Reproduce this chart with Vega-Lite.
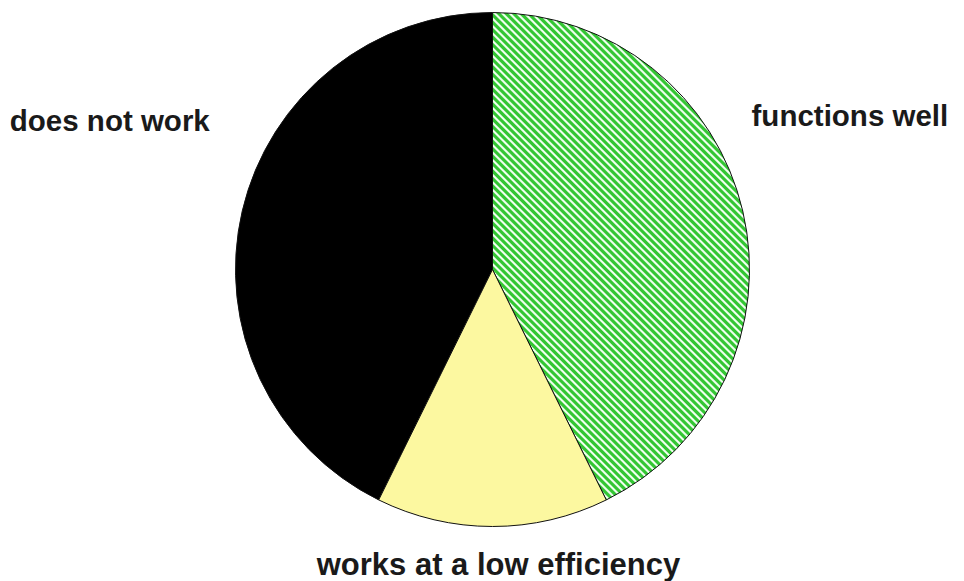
{
  "$schema": "https://vega.github.io/schema/vega-lite/v6.json",
  "autosize": "none",
  "width": 941,
  "height": 539,
  "padding": {"left": 22, "top": 0, "right": 1, "bottom": 42},
  "background": "white",
  "view": {"stroke": null},
  "data": {
    "values": [
      {"category": "does not work", "value": 42.7},
      {"category": "functions well", "value": 42.7},
      {"category": "works at a low efficiency", "value": 14.6}
    ]
  },
  "layer": [
    {
      "mark": {"type": "arc", "outerRadius": 257, "stroke": "#111111", "strokeWidth": 1},
      "encoding": {
        "theta": {"field": "value", "type": "quantitative", "stack": true, "scale": {"range": [-2.6829, 3.6003]}},
        "detail": {"field": "category"},
        "fill": {
          "condition": [
            {"test": "datum.category === 'does not work'", "value": "#000000"},
            {"test": "datum.category === 'works at a low efficiency'", "value": "#fcf8a0"}
          ],
          "value": {
            "gradient": "linear",
            "x1": 0, "y1": 1, "x2": 0.6294, "y2": -0.1952,
            "stops": [
              {"offset":0,"color":"#33c633"},{"offset":0.004,"color":"#33c633"},{"offset":0.006,"color":"#f0fff0"},{"offset":0.008,"color":"#f0fff0"},
              {"offset":0.01,"color":"#33c633"},{"offset":0.014,"color":"#33c633"},{"offset":0.016,"color":"#f0fff0"},{"offset":0.018,"color":"#f0fff0"},
              {"offset":0.02,"color":"#33c633"},{"offset":0.024,"color":"#33c633"},{"offset":0.026,"color":"#f0fff0"},{"offset":0.028,"color":"#f0fff0"},
              {"offset":0.03,"color":"#33c633"},{"offset":0.034,"color":"#33c633"},{"offset":0.036,"color":"#f0fff0"},{"offset":0.038,"color":"#f0fff0"},
              {"offset":0.04,"color":"#33c633"},{"offset":0.044,"color":"#33c633"},{"offset":0.046,"color":"#f0fff0"},{"offset":0.048,"color":"#f0fff0"},
              {"offset":0.05,"color":"#33c633"},{"offset":0.054,"color":"#33c633"},{"offset":0.056,"color":"#f0fff0"},{"offset":0.058,"color":"#f0fff0"},
              {"offset":0.06,"color":"#33c633"},{"offset":0.064,"color":"#33c633"},{"offset":0.066,"color":"#f0fff0"},{"offset":0.068,"color":"#f0fff0"},
              {"offset":0.07,"color":"#33c633"},{"offset":0.074,"color":"#33c633"},{"offset":0.076,"color":"#f0fff0"},{"offset":0.078,"color":"#f0fff0"},
              {"offset":0.08,"color":"#33c633"},{"offset":0.084,"color":"#33c633"},{"offset":0.086,"color":"#f0fff0"},{"offset":0.088,"color":"#f0fff0"},
              {"offset":0.09,"color":"#33c633"},{"offset":0.094,"color":"#33c633"},{"offset":0.096,"color":"#f0fff0"},{"offset":0.098,"color":"#f0fff0"},
              {"offset":0.1,"color":"#33c633"},{"offset":0.104,"color":"#33c633"},{"offset":0.106,"color":"#f0fff0"},{"offset":0.108,"color":"#f0fff0"},
              {"offset":0.11,"color":"#33c633"},{"offset":0.114,"color":"#33c633"},{"offset":0.116,"color":"#f0fff0"},{"offset":0.118,"color":"#f0fff0"},
              {"offset":0.12,"color":"#33c633"},{"offset":0.124,"color":"#33c633"},{"offset":0.126,"color":"#f0fff0"},{"offset":0.128,"color":"#f0fff0"},
              {"offset":0.13,"color":"#33c633"},{"offset":0.134,"color":"#33c633"},{"offset":0.136,"color":"#f0fff0"},{"offset":0.138,"color":"#f0fff0"},
              {"offset":0.14,"color":"#33c633"},{"offset":0.144,"color":"#33c633"},{"offset":0.146,"color":"#f0fff0"},{"offset":0.148,"color":"#f0fff0"},
              {"offset":0.15,"color":"#33c633"},{"offset":0.154,"color":"#33c633"},{"offset":0.156,"color":"#f0fff0"},{"offset":0.158,"color":"#f0fff0"},
              {"offset":0.16,"color":"#33c633"},{"offset":0.164,"color":"#33c633"},{"offset":0.166,"color":"#f0fff0"},{"offset":0.168,"color":"#f0fff0"},
              {"offset":0.17,"color":"#33c633"},{"offset":0.174,"color":"#33c633"},{"offset":0.176,"color":"#f0fff0"},{"offset":0.178,"color":"#f0fff0"},
              {"offset":0.18,"color":"#33c633"},{"offset":0.184,"color":"#33c633"},{"offset":0.186,"color":"#f0fff0"},{"offset":0.188,"color":"#f0fff0"},
              {"offset":0.19,"color":"#33c633"},{"offset":0.194,"color":"#33c633"},{"offset":0.196,"color":"#f0fff0"},{"offset":0.198,"color":"#f0fff0"},
              {"offset":0.2,"color":"#33c633"},{"offset":0.204,"color":"#33c633"},{"offset":0.206,"color":"#f0fff0"},{"offset":0.208,"color":"#f0fff0"},
              {"offset":0.21,"color":"#33c633"},{"offset":0.214,"color":"#33c633"},{"offset":0.216,"color":"#f0fff0"},{"offset":0.218,"color":"#f0fff0"},
              {"offset":0.22,"color":"#33c633"},{"offset":0.224,"color":"#33c633"},{"offset":0.226,"color":"#f0fff0"},{"offset":0.228,"color":"#f0fff0"},
              {"offset":0.23,"color":"#33c633"},{"offset":0.234,"color":"#33c633"},{"offset":0.236,"color":"#f0fff0"},{"offset":0.238,"color":"#f0fff0"},
              {"offset":0.24,"color":"#33c633"},{"offset":0.244,"color":"#33c633"},{"offset":0.246,"color":"#f0fff0"},{"offset":0.248,"color":"#f0fff0"},
              {"offset":0.25,"color":"#33c633"},{"offset":0.254,"color":"#33c633"},{"offset":0.256,"color":"#f0fff0"},{"offset":0.258,"color":"#f0fff0"},
              {"offset":0.26,"color":"#33c633"},{"offset":0.264,"color":"#33c633"},{"offset":0.266,"color":"#f0fff0"},{"offset":0.268,"color":"#f0fff0"},
              {"offset":0.27,"color":"#33c633"},{"offset":0.274,"color":"#33c633"},{"offset":0.276,"color":"#f0fff0"},{"offset":0.278,"color":"#f0fff0"},
              {"offset":0.28,"color":"#33c633"},{"offset":0.284,"color":"#33c633"},{"offset":0.286,"color":"#f0fff0"},{"offset":0.288,"color":"#f0fff0"},
              {"offset":0.29,"color":"#33c633"},{"offset":0.294,"color":"#33c633"},{"offset":0.296,"color":"#f0fff0"},{"offset":0.298,"color":"#f0fff0"},
              {"offset":0.3,"color":"#33c633"},{"offset":0.304,"color":"#33c633"},{"offset":0.306,"color":"#f0fff0"},{"offset":0.308,"color":"#f0fff0"},
              {"offset":0.31,"color":"#33c633"},{"offset":0.314,"color":"#33c633"},{"offset":0.316,"color":"#f0fff0"},{"offset":0.318,"color":"#f0fff0"},
              {"offset":0.32,"color":"#33c633"},{"offset":0.324,"color":"#33c633"},{"offset":0.326,"color":"#f0fff0"},{"offset":0.328,"color":"#f0fff0"},
              {"offset":0.33,"color":"#33c633"},{"offset":0.334,"color":"#33c633"},{"offset":0.336,"color":"#f0fff0"},{"offset":0.338,"color":"#f0fff0"},
              {"offset":0.34,"color":"#33c633"},{"offset":0.344,"color":"#33c633"},{"offset":0.346,"color":"#f0fff0"},{"offset":0.348,"color":"#f0fff0"},
              {"offset":0.35,"color":"#33c633"},{"offset":0.354,"color":"#33c633"},{"offset":0.356,"color":"#f0fff0"},{"offset":0.358,"color":"#f0fff0"},
              {"offset":0.36,"color":"#33c633"},{"offset":0.364,"color":"#33c633"},{"offset":0.366,"color":"#f0fff0"},{"offset":0.368,"color":"#f0fff0"},
              {"offset":0.37,"color":"#33c633"},{"offset":0.374,"color":"#33c633"},{"offset":0.376,"color":"#f0fff0"},{"offset":0.378,"color":"#f0fff0"},
              {"offset":0.38,"color":"#33c633"},{"offset":0.384,"color":"#33c633"},{"offset":0.386,"color":"#f0fff0"},{"offset":0.388,"color":"#f0fff0"},
              {"offset":0.39,"color":"#33c633"},{"offset":0.394,"color":"#33c633"},{"offset":0.396,"color":"#f0fff0"},{"offset":0.398,"color":"#f0fff0"},
              {"offset":0.4,"color":"#33c633"},{"offset":0.404,"color":"#33c633"},{"offset":0.406,"color":"#f0fff0"},{"offset":0.408,"color":"#f0fff0"},
              {"offset":0.41,"color":"#33c633"},{"offset":0.414,"color":"#33c633"},{"offset":0.416,"color":"#f0fff0"},{"offset":0.418,"color":"#f0fff0"},
              {"offset":0.42,"color":"#33c633"},{"offset":0.424,"color":"#33c633"},{"offset":0.426,"color":"#f0fff0"},{"offset":0.428,"color":"#f0fff0"},
              {"offset":0.43,"color":"#33c633"},{"offset":0.434,"color":"#33c633"},{"offset":0.436,"color":"#f0fff0"},{"offset":0.438,"color":"#f0fff0"},
              {"offset":0.44,"color":"#33c633"},{"offset":0.444,"color":"#33c633"},{"offset":0.446,"color":"#f0fff0"},{"offset":0.448,"color":"#f0fff0"},
              {"offset":0.45,"color":"#33c633"},{"offset":0.454,"color":"#33c633"},{"offset":0.456,"color":"#f0fff0"},{"offset":0.458,"color":"#f0fff0"},
              {"offset":0.46,"color":"#33c633"},{"offset":0.464,"color":"#33c633"},{"offset":0.466,"color":"#f0fff0"},{"offset":0.468,"color":"#f0fff0"},
              {"offset":0.47,"color":"#33c633"},{"offset":0.474,"color":"#33c633"},{"offset":0.476,"color":"#f0fff0"},{"offset":0.478,"color":"#f0fff0"},
              {"offset":0.48,"color":"#33c633"},{"offset":0.484,"color":"#33c633"},{"offset":0.486,"color":"#f0fff0"},{"offset":0.488,"color":"#f0fff0"},
              {"offset":0.49,"color":"#33c633"},{"offset":0.494,"color":"#33c633"},{"offset":0.496,"color":"#f0fff0"},{"offset":0.498,"color":"#f0fff0"},
              {"offset":0.5,"color":"#33c633"},{"offset":0.504,"color":"#33c633"},{"offset":0.506,"color":"#f0fff0"},{"offset":0.508,"color":"#f0fff0"},
              {"offset":0.51,"color":"#33c633"},{"offset":0.514,"color":"#33c633"},{"offset":0.516,"color":"#f0fff0"},{"offset":0.518,"color":"#f0fff0"},
              {"offset":0.52,"color":"#33c633"},{"offset":0.524,"color":"#33c633"},{"offset":0.526,"color":"#f0fff0"},{"offset":0.528,"color":"#f0fff0"},
              {"offset":0.53,"color":"#33c633"},{"offset":0.534,"color":"#33c633"},{"offset":0.536,"color":"#f0fff0"},{"offset":0.538,"color":"#f0fff0"},
              {"offset":0.54,"color":"#33c633"},{"offset":0.544,"color":"#33c633"},{"offset":0.546,"color":"#f0fff0"},{"offset":0.548,"color":"#f0fff0"},
              {"offset":0.55,"color":"#33c633"},{"offset":0.554,"color":"#33c633"},{"offset":0.556,"color":"#f0fff0"},{"offset":0.558,"color":"#f0fff0"},
              {"offset":0.56,"color":"#33c633"},{"offset":0.564,"color":"#33c633"},{"offset":0.566,"color":"#f0fff0"},{"offset":0.568,"color":"#f0fff0"},
              {"offset":0.57,"color":"#33c633"},{"offset":0.574,"color":"#33c633"},{"offset":0.576,"color":"#f0fff0"},{"offset":0.578,"color":"#f0fff0"},
              {"offset":0.58,"color":"#33c633"},{"offset":0.584,"color":"#33c633"},{"offset":0.586,"color":"#f0fff0"},{"offset":0.588,"color":"#f0fff0"},
              {"offset":0.59,"color":"#33c633"},{"offset":0.594,"color":"#33c633"},{"offset":0.596,"color":"#f0fff0"},{"offset":0.598,"color":"#f0fff0"},
              {"offset":0.6,"color":"#33c633"},{"offset":0.604,"color":"#33c633"},{"offset":0.606,"color":"#f0fff0"},{"offset":0.608,"color":"#f0fff0"},
              {"offset":0.61,"color":"#33c633"},{"offset":0.614,"color":"#33c633"},{"offset":0.616,"color":"#f0fff0"},{"offset":0.618,"color":"#f0fff0"},
              {"offset":0.62,"color":"#33c633"},{"offset":0.624,"color":"#33c633"},{"offset":0.626,"color":"#f0fff0"},{"offset":0.628,"color":"#f0fff0"},
              {"offset":0.63,"color":"#33c633"},{"offset":0.634,"color":"#33c633"},{"offset":0.636,"color":"#f0fff0"},{"offset":0.638,"color":"#f0fff0"},
              {"offset":0.64,"color":"#33c633"},{"offset":0.644,"color":"#33c633"},{"offset":0.646,"color":"#f0fff0"},{"offset":0.648,"color":"#f0fff0"},
              {"offset":0.65,"color":"#33c633"},{"offset":0.654,"color":"#33c633"},{"offset":0.656,"color":"#f0fff0"},{"offset":0.658,"color":"#f0fff0"},
              {"offset":0.66,"color":"#33c633"},{"offset":0.664,"color":"#33c633"},{"offset":0.666,"color":"#f0fff0"},{"offset":0.668,"color":"#f0fff0"},
              {"offset":0.67,"color":"#33c633"},{"offset":0.674,"color":"#33c633"},{"offset":0.676,"color":"#f0fff0"},{"offset":0.678,"color":"#f0fff0"},
              {"offset":0.68,"color":"#33c633"},{"offset":0.684,"color":"#33c633"},{"offset":0.686,"color":"#f0fff0"},{"offset":0.688,"color":"#f0fff0"},
              {"offset":0.69,"color":"#33c633"},{"offset":0.694,"color":"#33c633"},{"offset":0.696,"color":"#f0fff0"},{"offset":0.698,"color":"#f0fff0"},
              {"offset":0.7,"color":"#33c633"},{"offset":0.704,"color":"#33c633"},{"offset":0.706,"color":"#f0fff0"},{"offset":0.708,"color":"#f0fff0"},
              {"offset":0.71,"color":"#33c633"},{"offset":0.714,"color":"#33c633"},{"offset":0.716,"color":"#f0fff0"},{"offset":0.718,"color":"#f0fff0"},
              {"offset":0.72,"color":"#33c633"},{"offset":0.724,"color":"#33c633"},{"offset":0.726,"color":"#f0fff0"},{"offset":0.728,"color":"#f0fff0"},
              {"offset":0.73,"color":"#33c633"},{"offset":0.734,"color":"#33c633"},{"offset":0.736,"color":"#f0fff0"},{"offset":0.738,"color":"#f0fff0"},
              {"offset":0.74,"color":"#33c633"},{"offset":0.744,"color":"#33c633"},{"offset":0.746,"color":"#f0fff0"},{"offset":0.748,"color":"#f0fff0"},
              {"offset":0.75,"color":"#33c633"},{"offset":0.754,"color":"#33c633"},{"offset":0.756,"color":"#f0fff0"},{"offset":0.758,"color":"#f0fff0"},
              {"offset":0.76,"color":"#33c633"},{"offset":0.764,"color":"#33c633"},{"offset":0.766,"color":"#f0fff0"},{"offset":0.768,"color":"#f0fff0"},
              {"offset":0.77,"color":"#33c633"},{"offset":0.774,"color":"#33c633"},{"offset":0.776,"color":"#f0fff0"},{"offset":0.778,"color":"#f0fff0"},
              {"offset":0.78,"color":"#33c633"},{"offset":0.784,"color":"#33c633"},{"offset":0.786,"color":"#f0fff0"},{"offset":0.788,"color":"#f0fff0"},
              {"offset":0.79,"color":"#33c633"},{"offset":0.794,"color":"#33c633"},{"offset":0.796,"color":"#f0fff0"},{"offset":0.798,"color":"#f0fff0"},
              {"offset":0.8,"color":"#33c633"},{"offset":0.804,"color":"#33c633"},{"offset":0.806,"color":"#f0fff0"},{"offset":0.808,"color":"#f0fff0"},
              {"offset":0.81,"color":"#33c633"},{"offset":0.814,"color":"#33c633"},{"offset":0.816,"color":"#f0fff0"},{"offset":0.818,"color":"#f0fff0"},
              {"offset":0.82,"color":"#33c633"},{"offset":0.824,"color":"#33c633"},{"offset":0.826,"color":"#f0fff0"},{"offset":0.828,"color":"#f0fff0"},
              {"offset":0.83,"color":"#33c633"},{"offset":0.834,"color":"#33c633"},{"offset":0.836,"color":"#f0fff0"},{"offset":0.838,"color":"#f0fff0"},
              {"offset":0.84,"color":"#33c633"},{"offset":0.844,"color":"#33c633"},{"offset":0.846,"color":"#f0fff0"},{"offset":0.848,"color":"#f0fff0"},
              {"offset":0.85,"color":"#33c633"},{"offset":0.854,"color":"#33c633"},{"offset":0.856,"color":"#f0fff0"},{"offset":0.858,"color":"#f0fff0"},
              {"offset":0.86,"color":"#33c633"},{"offset":0.864,"color":"#33c633"},{"offset":0.866,"color":"#f0fff0"},{"offset":0.868,"color":"#f0fff0"},
              {"offset":0.87,"color":"#33c633"},{"offset":0.874,"color":"#33c633"},{"offset":0.876,"color":"#f0fff0"},{"offset":0.878,"color":"#f0fff0"},
              {"offset":0.88,"color":"#33c633"},{"offset":0.884,"color":"#33c633"},{"offset":0.886,"color":"#f0fff0"},{"offset":0.888,"color":"#f0fff0"},
              {"offset":0.89,"color":"#33c633"},{"offset":0.894,"color":"#33c633"},{"offset":0.896,"color":"#f0fff0"},{"offset":0.898,"color":"#f0fff0"},
              {"offset":0.9,"color":"#33c633"},{"offset":0.904,"color":"#33c633"},{"offset":0.906,"color":"#f0fff0"},{"offset":0.908,"color":"#f0fff0"},
              {"offset":0.91,"color":"#33c633"},{"offset":0.914,"color":"#33c633"},{"offset":0.916,"color":"#f0fff0"},{"offset":0.918,"color":"#f0fff0"},
              {"offset":0.92,"color":"#33c633"},{"offset":0.924,"color":"#33c633"},{"offset":0.926,"color":"#f0fff0"},{"offset":0.928,"color":"#f0fff0"},
              {"offset":0.93,"color":"#33c633"},{"offset":0.934,"color":"#33c633"},{"offset":0.936,"color":"#f0fff0"},{"offset":0.938,"color":"#f0fff0"},
              {"offset":0.94,"color":"#33c633"},{"offset":0.944,"color":"#33c633"},{"offset":0.946,"color":"#f0fff0"},{"offset":0.948,"color":"#f0fff0"},
              {"offset":0.95,"color":"#33c633"},{"offset":0.954,"color":"#33c633"},{"offset":0.956,"color":"#f0fff0"},{"offset":0.958,"color":"#f0fff0"},
              {"offset":0.96,"color":"#33c633"},{"offset":0.964,"color":"#33c633"},{"offset":0.966,"color":"#f0fff0"},{"offset":0.968,"color":"#f0fff0"},
              {"offset":0.97,"color":"#33c633"},{"offset":0.974,"color":"#33c633"},{"offset":0.976,"color":"#f0fff0"},{"offset":0.978,"color":"#f0fff0"},
              {"offset":0.98,"color":"#33c633"},{"offset":0.984,"color":"#33c633"},{"offset":0.986,"color":"#f0fff0"},{"offset":0.988,"color":"#f0fff0"},
              {"offset":0.99,"color":"#33c633"},{"offset":0.994,"color":"#33c633"},{"offset":0.996,"color":"#f0fff0"},{"offset":0.998,"color":"#f0fff0"},
              {"offset":1,"color":"#33c633"}
            ]
          }
        }
      }
    },
    {
      "mark": {"type": "text", "radius": 367, "dy": -60, "font": "Liberation Sans", "fontWeight": "bold", "fontSize": 29.5, "align": "center", "baseline": "alphabetic", "color": "#1a1a1a"},
      "encoding": {
        "theta": {"field": "value", "type": "quantitative", "stack": true, "scale": {"range": [-2.6829, 3.6003]}},
        "detail": {"field": "category"},
        "text": {"condition": {"test": "datum.category === 'functions well'", "field": "category"}, "value": ""}
      }
    },
    {
      "mark": {"type": "text", "radius": 305, "dx": 6, "font": "Liberation Sans", "fontWeight": "bold", "fontSize": 31, "align": "center", "baseline": "alphabetic", "color": "#1a1a1a"},
      "encoding": {
        "theta": {"field": "value", "type": "quantitative", "stack": true, "scale": {"range": [-2.6829, 3.6003]}},
        "detail": {"field": "category"},
        "text": {"condition": {"test": "datum.category === 'works at a low efficiency'", "field": "category"}, "value": ""}
      }
    },
    {
      "mark": {"type": "text", "radius": 393, "dy": -49, "font": "Liberation Sans", "fontWeight": "bold", "fontSize": 29.5, "align": "center", "baseline": "alphabetic", "color": "#1a1a1a"},
      "encoding": {
        "theta": {"field": "value", "type": "quantitative", "stack": true, "scale": {"range": [-2.6829, 3.6003]}},
        "detail": {"field": "category"},
        "text": {"condition": {"test": "datum.category === 'does not work'", "field": "category"}, "value": ""}
      }
    }
  ]
}
